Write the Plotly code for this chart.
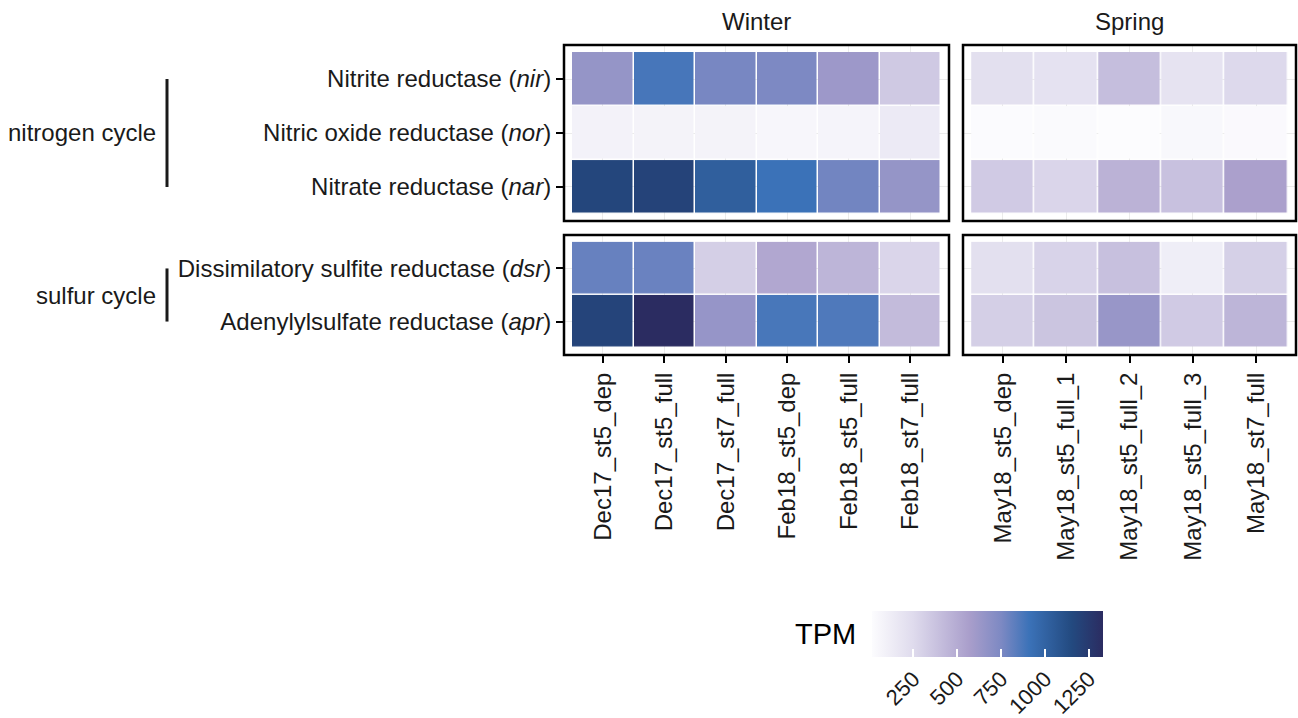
import plotly.graph_objects as go

# ---------------- data ----------------
samples_winter = ["Dec17_st5_dep", "Dec17_st5_full", "Dec17_st7_full",
                  "Feb18_st5_dep", "Feb18_st5_full", "Feb18_st7_full"]
samples_spring = ["May18_st5_dep", "May18_st5_full_1", "May18_st5_full_2",
                  "May18_st5_full_3", "May18_st7_full"]
genes_nitrogen = ["Nitrite reductase (<i>nir</i>)",
                  "Nitric oxide reductase (<i>nor</i>)",
                  "Nitrate reductase (<i>nar</i>)"]
genes_sulfur = ["Dissimilatory sulfite reductase (<i>dsr</i>)",
                "Adenylylsulfate reductase (<i>apr</i>)"]
group_labels = ["nitrogen cycle", "sulfur cycle"]
season_labels = ["Winter", "Spring"]

winter_nitrogen = [
    [650, 880, 762, 750, 620, 346],
    [84, 80, 80, 59, 75, 142],
    [1172, 1190, 1024, 910, 777, 651],
]
spring_nitrogen = [
    [217, 200, 404, 192, 262],
    [20, 30, 15, 45, 35],
    [339, 280, 463, 386, 558],
]
winter_sulfur = [
    [803, 797, 315, 523, 451, 280],
    [1185, 1330, 648, 878, 861, 416],
]
spring_sulfur = [
    [217, 291, 392, 117, 309],
    [315, 368, 640, 339, 451],
]

# colour anchors (value, colour)
scale_values = [15, 250, 570, 750, 910, 1150, 1330]
scale_colors = ["#fcfcfe", "#dfdbed", "#a99ecb", "#7d89c3", "#3b72b8", "#234a80", "#2b2c61"]
cbar_ticks = [250, 500, 750, 1000, 1250]

all_vals = [v for m in (winter_nitrogen, spring_nitrogen, winter_sulfur, spring_sulfur)
            for r in m for v in r]
zmin, zmax = min(all_vals), max(all_vals)
colorscale = [[min(1, max(0, (v - zmin) / (zmax - zmin))), c]
              for v, c in zip(scale_values, scale_colors)]
colorscale[0][0] = 0.0
colorscale[-1][0] = 1.0

W, H = 1298, 718
FONT = "Liberation Sans, Arial, sans-serif"
TXT = "#1a1a1a"

def px_x(p):
    return p / W

def px_y(p):
    return 1 - p / H

fig = go.Figure()

panels = [
    (winter_nitrogen, samples_winter, genes_nitrogen, "x", "y"),
    (spring_nitrogen, samples_spring, genes_nitrogen, "x2", "y2"),
    (winter_sulfur, samples_winter, genes_sulfur, "x3", "y3"),
    (spring_sulfur, samples_spring, genes_sulfur, "x4", "y4"),
]
for z, xc, yc, xa, ya in panels:
    fig.add_trace(go.Heatmap(
        z=z, x=xc, y=yc, xaxis=xa, yaxis=ya,
        coloraxis="coloraxis", xgap=1.5, ygap=1.5,
        hovertemplate="%{x}<br>%{y}<br>TPM=%{z}<extra></extra>",
    ))

xdom_w = [px_x(564), px_x(949)]
xdom_s = [px_x(963), px_x(1296)]
ydom_up = [px_y(221), px_y(45)]
ydom_lo = [px_y(355), px_y(235)]

pad = 0.13
def xrange(n):
    return [-0.5 - pad, n - 0.5 + pad]

def yrange(n):
    return [n - 0.5 + pad, -0.5 - pad]

grid = dict(showgrid=True, gridcolor="#ebebeb", gridwidth=1, zeroline=False,
            type="category", fixedrange=True, automargin=False)
tickstyle = dict(ticks="outside", ticklen=7, tickwidth=2, tickcolor="black",
                 tickfont=dict(family=FONT, size=24, color=TXT))

layout_axes = dict(
    xaxis=dict(domain=xdom_w, anchor="y", range=xrange(6), showticklabels=False, ticks="", **grid),
    yaxis=dict(domain=ydom_up, anchor="x", range=yrange(3), **grid, **tickstyle),
    xaxis2=dict(domain=xdom_s, anchor="y2", range=xrange(5), showticklabels=False, ticks="", **grid),
    yaxis2=dict(domain=ydom_up, anchor="x2", range=yrange(3), showticklabels=False, ticks="", **grid),
    xaxis3=dict(domain=xdom_w, anchor="y3", range=xrange(6), tickangle=-90, **grid, **tickstyle),
    yaxis3=dict(domain=ydom_lo, anchor="x3", range=yrange(2), **grid, **tickstyle),
    xaxis4=dict(domain=xdom_s, anchor="y4", range=xrange(5), tickangle=-90, **grid, **tickstyle),
    yaxis4=dict(domain=ydom_lo, anchor="x4", range=yrange(2), showticklabels=False, ticks="", **grid),
)
fig.update_layout(**layout_axes)

# panel borders
for xa, ya in [("x", "y"), ("x2", "y2"), ("x3", "y3"), ("x4", "y4")]:
    fig.add_shape(type="rect", xref=f"{xa} domain", yref=f"{ya} domain",
                  x0=0, x1=1, y0=0, y1=1, line=dict(color="black", width=2.5),
                  layer="above")

# group brackets + labels
for label, genes, ya in [(group_labels[0], genes_nitrogen, "y"),
                         (group_labels[1], genes_sulfur, "y3")]:
    fig.add_shape(type="line", xref="paper", yref=ya,
                  x0=px_x(167), x1=px_x(167), y0=genes[0], y1=genes[-1],
                  line=dict(color=TXT, width=3))
    fig.add_annotation(text=label, xref="paper", yref=ya, x=px_x(158),
                       y=(len(genes) - 1) / 2, xanchor="right", yanchor="middle",
                       showarrow=False, font=dict(family=FONT, size=24, color=TXT))

# strip labels
for label, dom in zip(season_labels, [xdom_w, xdom_s]):
    fig.add_annotation(text=label, xref="paper", yref="paper",
                       x=(dom[0] + dom[1]) / 2, y=px_y(22), xanchor="center",
                       yanchor="middle", showarrow=False,
                       font=dict(family=FONT, size=24, color=TXT))

# colorbar title
fig.add_annotation(text="TPM", xref="paper", yref="paper", x=px_x(858), y=px_y(634),
                   xanchor="right", yanchor="middle", showarrow=False,
                   font=dict(family=FONT, size=29, color="black"))

fig.update_layout(
    width=W, height=H, autosize=False,
    margin=dict(l=0, r=0, t=0, b=0, autoexpand=False),
    paper_bgcolor="white", plot_bgcolor="white",
    font=dict(family=FONT, color=TXT),
    coloraxis=dict(
        colorscale=colorscale, cmin=zmin, cmax=zmax,
        colorbar=dict(
            orientation="h", x=px_x(987.5), xanchor="center",
            y=px_y(611), yanchor="top",
            len=231, lenmode="pixels", thickness=46, thicknessmode="pixels",
            outlinewidth=0, xpad=0, ypad=0,
            tickvals=cbar_ticks, ticks="inside", ticklen=8, tickwidth=1.5,
            tickcolor="white", tickangle=-45,
            tickfont=dict(family=FONT, size=22, color=TXT),
            title=dict(text=""),
        ),
    ),
)

fig.write_html("out.html")
